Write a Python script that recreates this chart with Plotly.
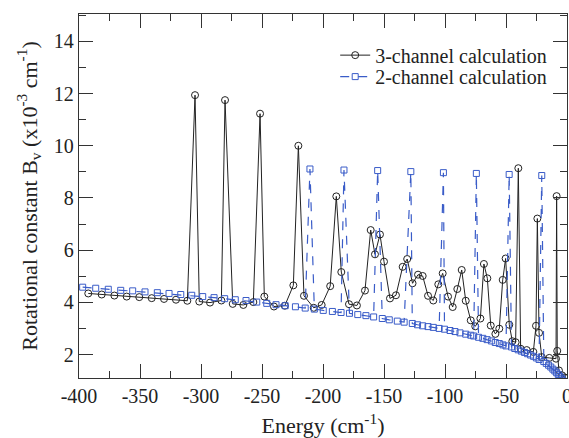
import plotly.graph_objects as go

# 3-channel calculation (black circles, solid line)
e3 = [-392.4, -381.4, -371.0, -360.9, -350.6, -340.4, -330.3, -320.5, -311.2, -304.9,
      -301.4, -292.6, -283.3, -280.3, -274.0, -265.3, -257.1, -251.6, -248.1, -240.2,
      -231.3, -224.3, -220.2, -215.6, -207.6, -201.1, -194.1, -189.1, -185.0, -178.7,
      -172.2, -165.6, -160.9, -157.4, -153.3, -150.0, -145.1, -140.2, -134.7, -131.0,
      -126.6, -122.1, -118.3, -113.9, -109.6, -105.5, -101.9, -97.5, -93.7, -89.9,
      -86.3, -83.0, -78.9, -75.2, -71.0, -68.1, -65.3, -62.5, -58.7, -55.5,
      -52.7, -50.3, -47.3, -44.8, -42.1, -39.9, -38.0, -33.0, -27.6, -25.4,
      -24.3, -22.9, -20.7, -14.5, -9.0, -8.5, -8.0, -6.6, -4.0, -2.0, -0.8]
b3 = [4.34, 4.30, 4.26, 4.22, 4.20, 4.16, 4.13, 4.10, 4.06, 11.94,
      4.03, 3.99, 4.07, 11.75, 3.94, 3.90, 4.01, 11.23, 4.22, 3.84,
      3.87, 4.65, 10.00, 4.25, 3.79, 3.90, 4.62, 8.06, 5.16, 3.93,
      3.88, 4.45, 6.77, 5.84, 6.60, 5.56, 4.15, 4.27, 5.36, 5.66,
      4.73, 5.06, 5.01, 4.25, 4.07, 4.69, 5.11, 4.22, 3.82, 4.51,
      5.24, 4.06, 3.31, 3.08, 3.38, 5.47, 4.92, 3.11, 2.79, 2.99,
      4.86, 5.68, 3.14, 2.51, 2.47, 9.14, 2.22, 2.17, 2.10, 3.10,
      7.21, 2.83, 1.90, 1.87, 1.84, 8.07, 2.14, 1.39, 1.20, 1.12, 1.10]

# 2-channel calculation (blue squares, dashed line)
e2 = [-397.0, -386.3, -376.0, -365.8, -356.0, -345.9, -335.8, -326.2, -316.6, -307.6,
      -298.6, -289.3, -280.6, -271.9, -263.1, -254.3, -246.1, -238.5, -231.0, -222.6,
      -214.6, -210.7, -207.1, -199.8, -192.3, -185.2, -182.8, -178.3, -171.5, -164.8,
      -158.5, -155.2, -151.4, -145.7, -139.1, -133.5, -128.0, -126.8, -122.5, -118.3,
      -113.9, -109.6, -104.8, -101.3, -100.4, -95.9, -91.8, -87.7, -83.0, -78.9,
      -76.5, -74.3, -72.5, -69.0, -65.5, -62.0, -58.8, -55.5, -52.5, -50.0,
      -47.4, -45.5, -42.8, -40.0, -37.4, -34.8, -32.3, -29.8, -27.4, -25.1,
      -22.9, -20.7, -19.0, -17.0, -15.1, -13.3, -11.6, -10.0, -8.5, -7.1,
      -5.8, -4.6, -3.5, -2.5, -1.6, -0.8]
b2 = [4.58, 4.54, 4.50, 4.46, 4.44, 4.40, 4.37, 4.34, 4.30, 4.27,
      4.22, 4.18, 4.14, 4.10, 4.07, 4.01, 3.96, 3.91, 3.87, 3.83,
      3.78, 9.11, 3.74, 3.69, 3.65, 3.61, 9.07, 3.58, 3.53, 3.49,
      3.44, 9.05, 3.38, 3.33, 3.28, 3.24, 9.01, 3.19, 3.14, 3.10,
      3.07, 3.04, 3.00, 8.97, 2.97, 2.92, 2.88, 2.83, 2.78, 2.74,
      2.71, 8.94, 2.66, 2.62, 2.57, 2.52, 2.46, 2.42, 2.37, 2.33,
      8.90, 2.29, 2.23, 2.18, 2.13, 2.08, 2.03, 1.98, 1.93, 1.87,
      1.81, 8.86, 1.73, 1.66, 1.59, 1.52, 1.44, 1.37, 1.30, 1.23,
      1.16, 1.09, 1.02, 0.95, 0.88, 0.82]

x_tickvals = [-400, -350, -300, -250, -200, -150, -100, -50, 0]
x_ticktext = ["-400", "-350", "-300", "-250", "-200", "-150", "-100", "-50", "0"]
y_tickvals = [2, 4, 6, 8, 10, 12, 14]
y_ticktext = ["2", "4", "6", "8", "10", "12", "14"]

FONT = "Liberation Serif, Times New Roman, Times, serif"
AXC = "#333333"
TXT = "#222222"
BLUE = "#3a5cc8"

fig = go.Figure()
fig.add_trace(go.Scatter(
    x=e3, y=b3, mode="lines+markers", name="3-channel calculation", legend="legend",
    line=dict(color="#222222", width=1),
    marker=dict(symbol="circle-open", size=7, color="#222222", line=dict(width=1)),
))
fig.add_trace(go.Scatter(
    x=e2, y=b2, mode="lines+markers", name="2-channel calculation", legend="legend2",
    line=dict(color=BLUE, width=1.2, dash="dash"),
    marker=dict(symbol="square-open", size=6, color=BLUE, line=dict(width=1)),
))

axis_common = dict(
    showline=True, linecolor=AXC, linewidth=1.3, mirror="ticks",
    ticks="inside", ticklen=14, tickwidth=1.2, tickcolor=AXC,
    showgrid=False, zeroline=False, automargin=False, ticklabeloverflow="allow",
    tickfont=dict(family=FONT, size=20, color=TXT),
)

fig.update_xaxes(
    range=[-400, 0], tickvals=x_tickvals, ticktext=x_ticktext,
    minor=dict(ticks="inside", ticklen=7, tickwidth=1.2, tickcolor=AXC, dtick=25, tick0=0),
    title=dict(text="Energy (cm<sup>-1</sup>)", font=dict(family=FONT, size=22, color=TXT), standoff=14),
    **axis_common,
)
fig.update_yaxes(
    range=[1.1, 15.05], tickvals=y_tickvals, ticktext=y_ticktext,
    minor=dict(ticks="inside", ticklen=7, tickwidth=1.2, tickcolor=AXC, dtick=1, tick0=0),
    title=dict(text="Rotational constant B<sub>v</sub> (x10<sup>-3</sup> cm<sup>-1</sup>)",
               font=dict(family=FONT, size=22, color=TXT), standoff=10),
    **axis_common,
)

legend_common = dict(xanchor="left", yanchor="middle", bgcolor="rgba(0,0,0,0)",
                     font=dict(family=FONT, size=20, color=TXT), itemwidth=30)
fig.update_layout(
    width=569, height=438,
    margin=dict(l=79, r=2, t=14, b=60),
    plot_bgcolor="white", paper_bgcolor="white",
    font=dict(family=FONT, color=TXT),
    legend=dict(x=0.525, y=0.887, **legend_common),
    legend2=dict(x=0.525, y=0.828, **legend_common),
    showlegend=True,
)

fig.write_html("out.html", config={"displayModeBar": False},
               post_script="document.body.style.margin='0px';")
